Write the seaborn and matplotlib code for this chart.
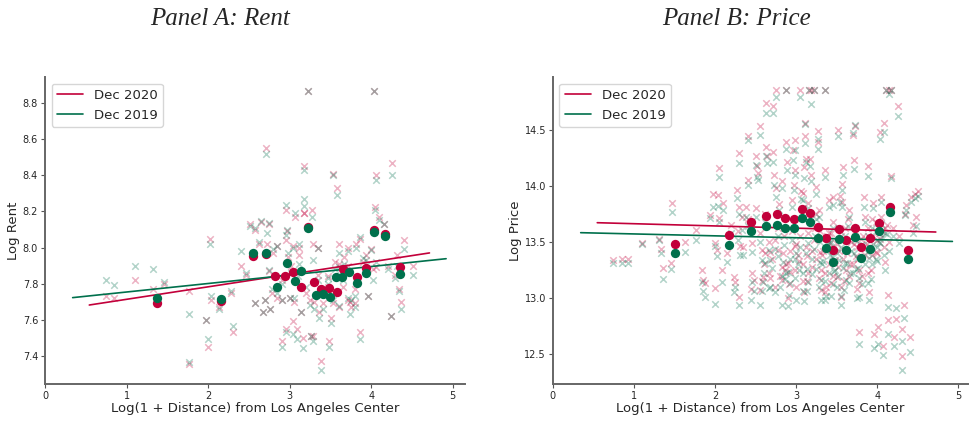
import numpy as np
import pandas as pd
import seaborn as sns
import matplotlib.pyplot as plt

# colours
red = "#C2003A"
green = "#00704C"

# ---------------- Panel A: rent (zip-level points) ----------------
rent_x = [0.75, 0.84, 1.10, 1.33, 1.46, 1.76, 1.76, 1.97, 2.00, 2.02, 2.04, 2.13,
          2.31, 2.28, 2.40, 2.46, 2.51, 2.57, 2.65, 2.57, 2.67, 2.62, 2.71, 2.72,
          2.70, 2.75, 2.75, 2.76, 2.80, 2.85, 2.90, 2.91, 2.95, 2.96, 2.95, 2.97,
          2.98, 3.01, 3.04, 3.06, 3.04, 3.09, 3.11, 3.12, 3.14, 3.16, 3.18, 3.17,
          3.18, 3.22, 3.27, 3.29, 3.25, 3.26, 3.28, 3.35, 3.36, 3.38, 3.41, 3.48,
          3.51, 3.53, 3.58, 3.60, 3.61, 3.61, 3.65, 3.71, 3.71, 3.74, 3.75, 3.80,
          3.81, 3.86, 3.86, 3.94, 3.96, 4.00, 4.04, 4.05, 4.06, 4.10, 4.06, 4.02,
          4.16, 4.26, 4.24, 4.20, 4.29, 4.31, 4.34, 4.37, 4.40, 4.51, 3.67, 3.53,
          3.47, 3.80, 3.47, 2.85, 2.90, 3.02, 3.05, 3.10, 3.20, 3.30, 3.35, 2.78,
          3.55, 3.72, 3.90]
rent_2020 = [7.73, 7.72, 7.82, 7.77, 7.80, 7.76, 7.355, 7.60, 7.45, 8.045, 7.71, 7.67,
             7.53, 7.75, 7.90, 7.85, 8.13, 8.10, 8.14, 7.69, 7.64, 8.02, 8.55, 8.02,
             7.71, 7.87, 8.13, 7.66, 7.97, 8.01, 7.48, 7.71, 7.55, 8.21, 8.04, 8.09,
             7.95, 7.72, 7.59, 8.17, 8.01, 7.55, 8.00, 7.96, 7.64, 7.50, 8.45, 8.19,
             8.19, 8.87, 8.21, 8.02, 7.71, 7.51, 7.51, 8.00, 7.64, 7.37, 7.69, 7.48,
             7.61, 8.41, 8.33, 7.67, 8.02, 7.91, 7.78, 8.00, 7.71, 7.70, 7.67, 7.77,
             8.02, 7.53, 8.05, 7.96, 7.73, 7.99, 8.87, 8.225, 8.40, 8.17, 7.89, 7.88,
             8.13, 8.47, 7.62, 7.90, 7.85, 7.96, 7.77, 7.70, 8.04, 7.90, 7.95, 7.69,
             7.78, 7.69, 7.84, 7.72, 7.82, 7.90, 7.70, 7.87, 7.75, 7.70, 7.85, 7.75,
             7.92, 7.90, 7.92]
rent_2019 = [7.82, 7.79, 7.90, 7.88, 7.81, 7.63, 7.365, 7.60, 7.49, 8.02, 7.73, 7.66,
             7.565, 7.76, 7.98, 7.86, 8.12, 8.11, 8.145, 7.69, 7.64, 8.03, 8.52, 8.08,
             7.71, 7.875, 8.135, 7.66, 7.99, 8.01, 7.45, 7.71, 7.53, 8.235, 8.07, 8.10,
             7.97, 7.72, 7.52, 8.19, 8.00, 7.49, 8.02, 7.91, 7.64, 7.44, 8.43, 8.23,
             8.27, 8.87, 8.17, 7.93, 7.68, 7.51, 7.48, 8.00, 7.61, 7.32, 7.66, 7.45,
             7.58, 8.40, 8.29, 7.675, 7.97, 7.89, 7.82, 7.98, 7.72, 7.63, 7.71, 7.73,
             8.00, 7.49, 8.06, 7.93, 7.73, 7.985, 8.87, 8.21, 8.375, 8.15, 7.92, 7.82,
             8.13, 8.40, 7.62, 7.88, 7.83, 7.90, 7.76, 7.66, 7.99, 7.85, 7.91, 7.71,
             7.80, 7.67, 7.83, 7.75, 7.80, 7.86, 7.72, 7.84, 7.78, 7.66, 7.82, 7.77,
             7.88, 7.86, 7.94]

# binned means
rent_bin_x_2020 = [1.37, 2.155, 2.553, 2.708, 2.819, 2.941, 3.043, 3.133, 3.227, 3.297,
                   3.39, 3.485, 3.578, 3.648, 3.82, 3.934, 4.032, 4.167, 4.35]
rent_bin_y_2020 = [7.694, 7.705, 7.955, 7.965, 7.844, 7.844, 7.863, 7.783, 8.115, 7.811,
                   7.768, 7.774, 7.752, 7.879, 7.835, 7.888, 8.097, 8.073, 7.894]
rent_bin_x_2019 = [1.37, 2.155, 2.553, 2.708, 2.839, 2.962, 3.064, 3.137, 3.227, 3.321,
                   3.403, 3.50, 3.574, 3.644, 3.725, 3.82, 3.934, 4.032, 4.167, 4.35]
rent_bin_y_2019 = [7.722, 7.716, 7.968, 7.972, 7.779, 7.916, 7.816, 7.870, 8.106, 7.737,
                   7.741, 7.724, 7.838, 7.838, 7.863, 7.802, 7.857, 8.088, 8.064, 7.853]

# fitted lines (endpoints)
rent_fit_x_2020 = [0.543, 4.714]
rent_fit_y_2020 = [7.681, 7.970]
rent_fit_x_2019 = [0.339, 4.918]
rent_fit_y_2019 = [7.722, 7.938]

# ---------------- Panel B: price (zip-level points) ----------------
price_x = [0.74, 0.85, 0.93, 1.10, 1.33, 1.36, 1.47, 1.46, 1.31, 1.63, 1.76, 1.84,
           1.85, 1.88, 1.94, 1.98, 2.03, 2.05, 2.00, 2.02, 2.00, 2.05, 2.09, 2.23,
           2.25, 2.30, 2.27, 2.30, 2.29, 2.31, 2.33, 2.40, 2.40, 2.38, 2.44, 2.46,
           2.50, 2.52, 2.53, 2.48, 2.56, 2.56, 2.58, 2.59, 2.63, 2.63, 2.64, 2.66,
           2.68, 2.71, 2.72, 2.73, 2.75, 2.75, 2.74, 2.78, 2.79, 2.82, 2.82, 2.84,
           2.88, 2.88, 2.89, 2.90, 2.93, 2.95, 2.96, 2.97, 2.98, 2.99, 3.00, 2.99,
           3.05, 3.09, 3.10, 3.11, 3.11, 3.12, 3.13, 3.14, 3.15, 3.16, 3.18, 3.17,
           3.18, 3.22, 3.25, 3.27, 3.27, 3.28, 3.29, 3.31, 3.31, 3.36, 3.36, 3.40,
           3.42, 3.43, 3.46, 3.48, 3.50, 3.52, 3.54, 3.55, 3.56, 3.57, 3.58, 3.60,
           3.62, 3.64, 3.70, 3.71, 3.72, 3.74, 3.77, 3.78, 3.80, 3.84, 3.88, 3.89,
           3.93, 3.96, 3.99, 4.01, 4.03, 4.04, 4.08, 4.07, 4.09, 4.11, 4.13, 4.13,
           4.15, 4.17, 4.17, 4.19, 4.21, 4.23, 4.25, 4.27, 4.30, 4.31, 4.33, 4.34,
           4.36, 4.40, 4.42, 4.44, 4.47, 4.50, 4.48,
           3.02, 3.05, 3.08, 3.12, 3.20, 3.22, 3.25, 3.30, 3.33, 3.35, 3.38, 3.40,
           3.44, 3.46, 3.50, 3.52, 3.55, 3.58, 3.60, 3.63, 3.65, 3.68, 3.70, 3.72,
           3.75, 3.78, 3.82, 3.85, 3.88, 3.90, 3.92, 3.95, 3.98, 4.00, 4.02, 4.05,
           4.08, 4.12, 4.15, 2.95, 2.98, 2.92, 2.87, 2.85, 2.80, 2.78, 2.70, 2.66,
           2.62, 2.60, 2.55, 2.50, 2.45, 2.40, 2.35, 2.28, 2.20, 2.15, 2.10, 3.06,
           3.15, 3.25, 3.45, 3.65, 3.85, 3.95, 4.05, 3.35, 3.55, 3.75, 3.90, 3.10,
           2.90,
           2.62, 2.68, 2.74, 2.83, 2.91, 3.00, 3.04, 3.13, 3.19, 3.23, 3.28, 3.32,
           3.37, 3.41, 3.47, 3.53, 3.59, 3.66, 3.71, 3.76, 3.81, 3.87, 3.94, 4.00,
           4.06, 4.10, 2.58, 2.86, 3.08, 3.43]
price_2020 = [13.34, 13.35, 13.35, 13.49, 13.44, 13.27, 13.85, 13.31, 13.53, 13.50, 13.61, 13.25,
              13.16, 13.13, 13.74, 13.93, 13.92, 14.155, 13.49, 13.43, 13.09, 13.71, 13.25, 13.19,
              13.14, 13.01, 13.96, 14.295, 13.81, 13.46, 13.72, 14.44, 14.05, 13.81, 13.08, 13.49,
              14.27, 14.18, 14.11, 13.16, 13.07, 14.53, 13.43, 13.19, 14.735, 14.35, 14.27, 13.22,
              13.41, 14.71, 14.30, 14.10, 13.98, 14.85, 13.10, 13.43, 13.84, 14.04, 13.16, 13.40,
              14.85, 14.39, 14.21, 13.31, 13.23, 13.87, 14.32, 14.01, 13.46, 14.41, 13.10, 14.14,
              14.85, 13.94, 14.17, 14.56, 14.44, 14.24, 13.37, 13.58, 13.22, 14.85, 14.85, 14.24,
              14.10, 14.85, 13.99, 14.49, 14.39, 13.78, 13.41, 13.25, 13.07, 14.85, 14.14, 13.87,
              13.49, 13.13, 13.90, 13.34, 13.19, 14.50, 13.91, 13.01, 13.86, 14.02, 14.17, 13.43,
              13.25, 13.70, 14.45, 14.23, 14.53, 13.37, 12.70, 13.13, 13.53, 13.90, 14.18, 13.22,
              13.70, 12.68, 13.41, 12.74, 14.48, 13.53, 14.56, 12.57, 13.62, 14.85, 13.03, 12.80,
              14.85, 14.09, 14.85, 13.62, 12.65, 12.81, 14.71, 13.55, 12.48, 12.72, 12.94, 13.75,
              13.83, 12.65, 13.90, 13.65, 13.93, 13.95, 13.72,
              13.38, 13.55, 13.30, 13.45, 13.28, 13.52, 13.35, 13.60, 13.42, 13.22, 13.55, 13.30,
              13.45, 13.20, 13.48, 13.28, 13.55, 13.35, 13.62, 13.40, 13.20, 13.50, 13.30, 13.60,
              13.45, 13.25, 13.55, 13.38, 13.62, 13.45, 13.25, 13.55, 13.68, 13.40, 13.58, 13.72,
              13.45, 13.65, 13.50, 13.60, 13.25, 13.42, 13.30, 13.55, 13.20, 13.62, 13.35, 13.50,
              13.75, 13.30, 13.58, 13.80, 13.22, 13.70, 13.45, 13.60, 13.65, 13.40, 13.85, 13.95,
              13.85, 13.75, 13.68, 13.78, 13.72, 13.85, 13.90, 13.05, 13.10, 13.08, 13.05, 13.05,
              13.00,
              13.40, 13.18, 13.52, 13.28, 13.12, 13.48, 13.33, 13.15, 13.42, 13.62, 13.18, 13.38,
              13.10, 13.58, 13.32, 13.42, 13.15, 13.30, 13.48, 13.35, 13.20, 13.48, 13.38, 13.52,
              13.60, 13.32, 13.15, 13.25, 13.15, 13.58]
price_2019 = [13.31, 13.31, 13.31, 13.48, 13.40, 13.17, 13.77, 13.26, 13.52, 13.41, 13.52, 13.14,
              13.06, 13.01, 13.71, 13.81, 13.82, 14.08, 13.46, 13.37, 12.95, 13.68, 13.145, 13.05,
              13.10, 12.94, 13.89, 14.20, 13.75, 13.38, 13.61, 14.41, 14.01, 13.72, 12.98, 13.41,
              14.185, 14.08, 14.05, 13.06, 12.94, 14.45, 13.34, 13.14, 14.65, 14.27, 14.20, 13.09,
              13.34, 14.65, 14.21, 14.01, 13.90, 14.79, 13.05, 13.37, 13.78, 13.98, 12.94, 13.32,
              14.85, 14.33, 14.14, 13.23, 13.13, 13.81, 14.23, 13.96, 13.35, 14.32, 12.98, 14.10,
              14.79, 13.87, 14.07, 14.55, 14.38, 14.21, 13.26, 13.49, 13.14, 14.85, 14.73, 14.18,
              14.04, 14.85, 13.93, 14.42, 14.33, 13.72, 13.32, 13.16, 12.98, 14.85, 14.08, 13.81,
              13.38, 13.02, 13.83, 13.25, 13.10, 14.44, 13.86, 12.94, 13.81, 13.96, 14.10, 13.31,
              13.16, 13.64, 14.47, 14.15, 14.54, 13.26, 12.59, 13.01, 13.47, 13.81, 14.09, 13.13,
              13.62, 12.55, 13.35, 12.59, 14.42, 13.49, 14.48, 12.49, 13.58, 14.85, 12.92, 12.68,
              14.82, 14.07, 14.85, 13.55, 12.57, 12.91, 14.62, 13.49, 12.36, 12.62, 12.82, 13.74,
              13.78, 12.52, 13.86, 13.58, 13.89, 13.91, 13.64,
              13.30, 13.45, 13.22, 13.40, 13.21, 13.44, 13.26, 13.50, 13.33, 13.15, 13.48, 13.22,
              13.37, 13.12, 13.40, 13.20, 13.45, 13.27, 13.55, 13.31, 13.13, 13.42, 13.22, 13.52,
              13.36, 13.18, 13.47, 13.30, 13.55, 13.36, 13.17, 13.48, 13.60, 13.33, 13.50, 13.66,
              13.38, 13.57, 13.42, 13.52, 13.18, 13.35, 13.22, 13.47, 13.10, 13.55, 13.27, 13.43,
              13.68, 13.22, 13.50, 13.72, 13.14, 13.64, 13.38, 13.52, 13.58, 13.32, 13.78, 13.88,
              13.80, 13.70, 13.62, 13.72, 13.68, 13.80, 13.86, 12.98, 13.02, 13.00, 12.98, 12.97,
              12.93,
              13.31, 13.10, 13.44, 13.20, 13.03, 13.40, 13.25, 13.06, 13.35, 13.55, 13.10, 13.30,
              13.02, 13.50, 13.24, 13.34, 13.07, 13.22, 13.40, 13.27, 13.12, 13.41, 13.30, 13.45,
              13.54, 13.25, 13.06, 13.17, 13.06, 13.50]

price_bin_x = [1.51, 2.176, 2.437, 2.629, 2.759, 2.865, 2.971, 3.078, 3.171, 3.273,
               3.367, 3.449, 3.531, 3.620, 3.722, 3.804, 3.906, 4.020, 4.163, 4.376]
price_bin_y_2020 = [13.481, 13.558, 13.680, 13.730, 13.745, 13.710, 13.704, 13.796, 13.760, 13.635,
                    13.537, 13.427, 13.614, 13.516, 13.620, 13.457, 13.531, 13.671, 13.814, 13.427]
price_bin_y_2019 = [13.403, 13.469, 13.594, 13.641, 13.650, 13.623, 13.623, 13.712, 13.677, 13.537,
                    13.448, 13.320, 13.522, 13.424, 13.546, 13.359, 13.439, 13.600, 13.763, 13.344]

price_fit_x_2020 = [0.547, 4.722]
price_fit_y_2020 = [13.671, 13.588]
price_fit_x_2019 = [0.343, 4.927]
price_fit_y_2019 = [13.582, 13.504]

sns.set_style("ticks")
plt.rcParams["font.family"] = ["DejaVu Sans"]

fig = plt.figure(figsize=(9.7, 4.21), dpi=100)
axA = fig.add_axes([0.0464, 0.088, 0.433, 0.729])
axB = fig.add_axes([0.570, 0.088, 0.428, 0.729])

fs = 9.5


def draw_panel(ax, xs, y20, y19, bx20, by20, bx19, by19, fx20, fy20, fx19, fy19):
    sns.scatterplot(x=xs, y=y20, ax=ax, marker="x", color=red, alpha=0.3,
                    s=22, linewidth=1.1)
    sns.scatterplot(x=xs, y=y19, ax=ax, marker="x", color=green, alpha=0.3,
                    s=22, linewidth=1.1)
    sns.lineplot(x=fx20, y=fy20, ax=ax, color=red, lw=1.2, label="Dec 2020")
    sns.lineplot(x=fx19, y=fy19, ax=ax, color=green, lw=1.2, label="Dec 2019")
    sns.scatterplot(x=bx20, y=by20, ax=ax, color=red, s=45, linewidth=0, zorder=4)
    sns.scatterplot(x=bx19, y=by19, ax=ax, color=green, s=45, linewidth=0, zorder=5)
    ax.set_xticks([0, 1, 2, 3, 4, 5])
    ax.tick_params(labelsize=7, length=3, width=0.8, color="#555555", pad=2)
    ax.set_xlabel("Log(1 + Distance) from Los Angeles Center", fontsize=fs, labelpad=1)
    for s in ["left", "bottom"]:
        ax.spines[s].set_color("#666666")
        ax.spines[s].set_linewidth(1.4)
    sns.despine(ax=ax)
    ax.legend(loc="upper left", fontsize=fs, handlelength=2.0,
              borderaxespad=0.5, frameon=True)


draw_panel(axA, rent_x, rent_2020, rent_2019, rent_bin_x_2020, rent_bin_y_2020,
           rent_bin_x_2019, rent_bin_y_2019, rent_fit_x_2020, rent_fit_y_2020,
           rent_fit_x_2019, rent_fit_y_2019)
axA.set_xlim(0, 5.15)
axA.set_ylim(7.243, 8.946)
axA.set_yticks([7.4, 7.6, 7.8, 8.0, 8.2, 8.4, 8.6, 8.8])
axA.set_ylabel("Log Rent", fontsize=fs, labelpad=2)

draw_panel(axB, price_x, price_2020, price_2019, price_bin_x, price_bin_y_2020,
           price_bin_x, price_bin_y_2019, price_fit_x_2020, price_fit_y_2020,
           price_fit_x_2019, price_fit_y_2019)
axB.set_xlim(0, 5.12)
axB.set_ylim(12.233, 14.97)
axB.set_yticks([12.5, 13.0, 13.5, 14.0, 14.5])
axB.set_ylabel("Log Price", fontsize=fs, labelpad=2)

fig.text(0.227, 0.955, "Panel A: Rent", ha="center", va="center", fontsize=18,
         family="Liberation Serif", style="italic")
fig.text(0.759, 0.955, "Panel B: Price", ha="center", va="center", fontsize=18,
         family="Liberation Serif", style="italic")

fig.savefig("out.png", dpi=100)
